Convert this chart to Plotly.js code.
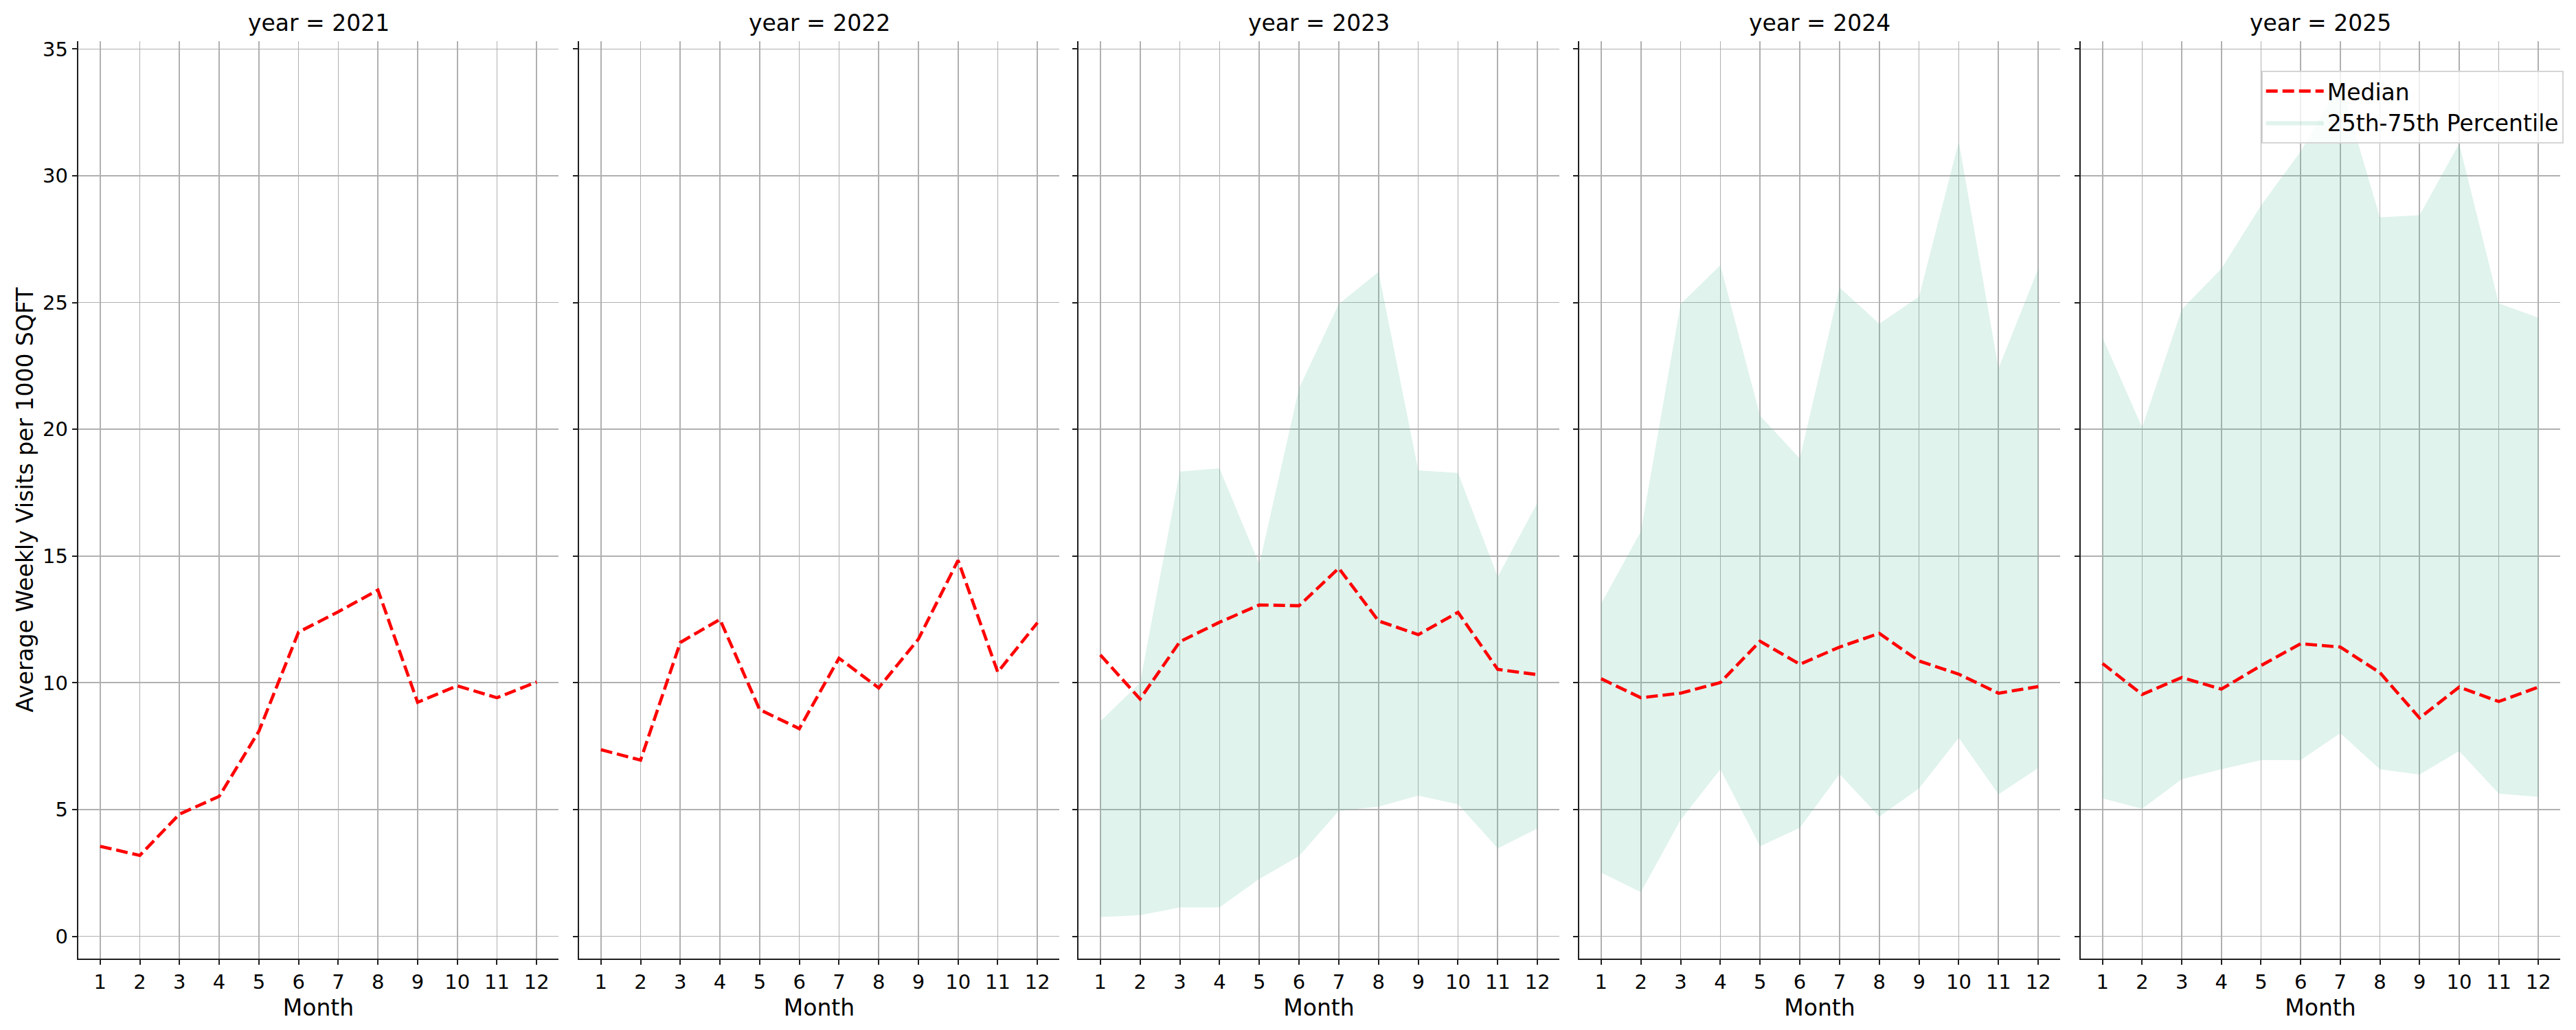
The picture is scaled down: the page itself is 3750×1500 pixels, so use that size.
<!DOCTYPE html>
<html>
<head>
<meta charset="utf-8">
<script src="https://cdn.plot.ly/plotly-3.0.1.min.js"></script>
<style>
  html, body { margin: 0; padding: 0; background: #ffffff; }
  #chart { width: 3750px; height: 1500px; }
</style>
</head>
<body>
<div id="chart"></div>
<script>
// ---- Data ----
const months = [1, 2, 3, 4, 5, 6, 7, 8, 9, 10, 11, 12];
const years = [2021, 2022, 2023, 2024, 2025];

const median2021 = [3.55, 3.19, 4.82, 5.52, 8.09, 12.0, 12.8, 13.66, 9.23, 9.88, 9.41, 10.03];
const median2022 = [7.36, 6.95, 11.59, 12.5, 8.94, 8.19, 10.97, 9.80, 11.72, 14.83, 10.42, 12.37];
const median2023 = [11.10, 9.36, 11.62, 12.39, 13.07, 13.04, 14.52, 12.44, 11.90, 12.78, 10.53, 10.32];
const median2024 = [10.16, 9.41, 9.59, 10.01, 11.64, 10.73, 11.41, 11.95, 10.86, 10.34, 9.59, 9.85];
const median2025 = [10.76, 9.54, 10.21, 9.75, 10.68, 11.54, 11.41, 10.40, 8.61, 9.83, 9.26, 9.83];

const p25_2023 = [0.76, 0.83, 1.14, 1.14, 2.26, 3.16, 4.95, 5.11, 5.55, 5.21, 3.47, 4.25];
const p75_2023 = [8.48, 10.0, 18.33, 18.46, 14.67, 21.62, 24.94, 26.21, 18.38, 18.28, 14.18, 17.11];
const p25_2024 = [2.51, 1.74, 4.59, 6.59, 3.55, 4.28, 6.40, 4.72, 5.83, 7.83, 5.60, 6.64];
const p75_2024 = [13.12, 15.97, 24.94, 26.47, 20.53, 18.85, 25.59, 24.16, 25.23, 31.35, 22.40, 26.34];
const p25_2025 = [5.44, 5.03, 6.20, 6.59, 6.95, 6.95, 8.01, 6.59, 6.38, 7.31, 5.63, 5.50];
const p75_2025 = [23.62, 20.07, 24.73, 26.34, 28.83, 30.96, 33.67, 28.36, 28.44, 31.27, 24.97, 24.40];

const medians = [median2021, median2022, median2023, median2024, median2025];
const lowers = [null, null, p25_2023, p25_2024, p25_2025];
const uppers = [null, null, p75_2023, p75_2024, p75_2025];

const xTickLabels = months.map(String);
const yTickVals = [0, 5, 10, 15, 20, 25, 30, 35];

// ---- Layout geometry ----
const W = 3750, H = 1500;
const panelPx = [[114, 813], [843, 1542], [1570, 2270], [2299, 2999], [3029, 3727]];
const yDomain = [1 - 1396 / H, 1 - 60 / H];

const FONT = '"DejaVu Sans", "Liberation Sans", sans-serif';
const gridColor = '#b0b0b0';
const spineColor = '#1f1f1f';
const fillColor = 'rgba(102,194,165,0.2)';

const traces = [];
years.forEach((yr, i) => {
  const ax = i === 0 ? '' : String(i + 1);
  if (lowers[i]) {
    traces.push({
      type: 'scatter', mode: 'lines', x: months, y: lowers[i],
      xaxis: 'x' + ax, yaxis: 'y' + ax,
      line: { width: 0, color: fillColor },
      showlegend: false, hoverinfo: 'skip'
    });
    traces.push({
      type: 'scatter', mode: 'lines', x: months, y: uppers[i],
      xaxis: 'x' + ax, yaxis: 'y' + ax,
      fill: 'tonexty', fillcolor: fillColor,
      line: { width: 0, color: fillColor },
      name: '25th-75th Percentile',
      showlegend: i === years.length - 1, legendrank: 2,
      hoverinfo: 'skip'
    });
  }
  traces.push({
    type: 'scatter', mode: 'lines', x: months, y: medians[i],
    xaxis: 'x' + ax, yaxis: 'y' + ax,
    line: { color: '#ff0000', width: 4.6, dash: '17px,7px' },
    name: 'Median',
    showlegend: i === years.length - 1, legendrank: 1
  });
});

const layout = {
  width: W, height: H,
  paper_bgcolor: '#ffffff', plot_bgcolor: '#ffffff',
  margin: { l: 0, r: 0, t: 0, b: 0, pad: 0 },
  font: { family: FONT, color: '#000000', size: 29 },
  showlegend: true,
  legend: {
    x: 3732 / W, xanchor: 'right', y: 1 - 103 / H, yanchor: 'top',
    traceorder: 'normal',
    bgcolor: 'rgba(255,255,255,0.8)', bordercolor: '#d5d5d5', borderwidth: 1.7,
    font: { family: FONT, size: 33, color: '#000000' },
    itemwidth: 84, tracegroupgap: 0
  },
  annotations: []
};

years.forEach((yr, i) => {
  const ax = i === 0 ? '' : String(i + 1);
  const dom = [panelPx[i][0] / W, panelPx[i][1] / W];
  layout['xaxis' + ax] = {
    domain: dom, anchor: 'y' + ax,
    range: [0.45, 12.55],
    tickmode: 'array', tickvals: months, ticktext: xTickLabels,
    showgrid: true, gridcolor: gridColor, gridwidth: 1.7,
    zeroline: false,
    showline: true, linecolor: spineColor, linewidth: 2.2,
    ticks: 'outside', ticklen: 7, tickwidth: 2, tickcolor: spineColor,
    tickfont: { family: FONT, size: 29, color: '#000000' },
    automargin: false,
    title: { text: 'Month', font: { family: FONT, size: 33, color: '#000000' }, standoff: 10 }
  };
  layout['yaxis' + ax] = {
    domain: yDomain, anchor: 'x' + ax,
    range: [-0.88, 35.31],
    tickmode: 'array', tickvals: yTickVals, ticktext: yTickVals.map(String),
    showticklabels: i === 0,
    showgrid: true, gridcolor: gridColor, gridwidth: 1.7,
    zeroline: false,
    showline: true, linecolor: spineColor, linewidth: 2.2,
    ticks: 'outside', ticklen: 7, tickwidth: 2, tickcolor: spineColor,
    tickfont: { family: FONT, size: 29, color: '#000000' },
    automargin: false
  };
  if (i === 0) {
    layout.yaxis.title = {
      text: 'Average Weekly Visits per 1000 SQFT',
      font: { family: FONT, size: 33, color: '#000000' }, standoff: 4
    };
  }
  layout.annotations.push({
    text: 'year = ' + yr, xref: 'paper', yref: 'paper',
    x: (dom[0] + dom[1]) / 2, y: 1 - 34 / H,
    xanchor: 'center', yanchor: 'middle', showarrow: false,
    font: { family: FONT, size: 33, color: '#000000' }
  });
});

Plotly.newPlot('chart', traces, layout, { displayModeBar: false, staticPlot: true });
</script>
</body>
</html>
